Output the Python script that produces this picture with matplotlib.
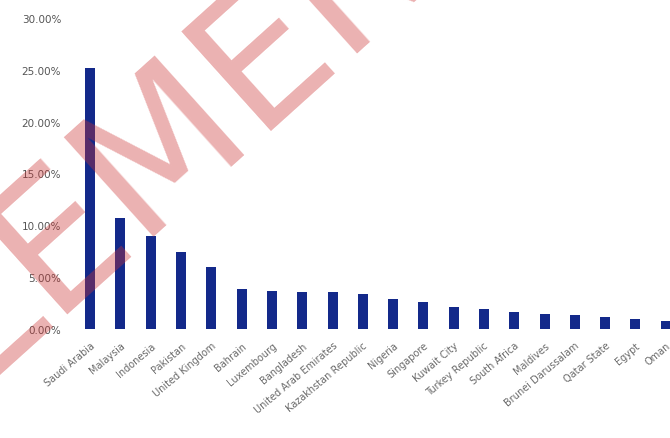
import matplotlib
matplotlib.use("Agg")
import matplotlib.pyplot as plt
from matplotlib.ticker import PercentFormatter

# ---------------- data ----------------
categories = [
    "Saudi Arabia", "Malaysia", "Indonesia", "Pakistan", "United Kingdom",
    "Bahrain", "Luxembourg", "Bangladesh", "United Arab Emirates",
    "Kazakhstan Republic", "Nigeria", "Singapore", "Kuwait City",
    "Turkey Republic", "South Africa", "Maldives", "Brunei Darussalam",
    "Qatar State", "Egypt", "Oman",
]
shares = [
    25.2, 10.7, 9.0, 7.4, 6.0, 3.85, 3.7, 3.6, 3.6, 3.4,
    2.9, 2.6, 2.1, 1.9, 1.6, 1.45, 1.35, 1.15, 0.96, 0.77,
]
y_ticks = [0, 5, 10, 15, 20, 25, 30]

# ---------------- figure ----------------
fig = plt.figure(figsize=(6.70, 4.39), dpi=100)
W, H = 670, 439
left_px, right_px, top_px, bottom_px = 75, 670, 19, 330
ax = fig.add_axes([left_px / W, (H - bottom_px) / H,
                   (right_px - left_px) / W, (bottom_px - top_px) / H])

ax.bar(range(len(shares)), shares, width=0.33, color="#13298a", zorder=2)

ax.set_xlim(-0.5, 19.14)
ax.set_ylim(0, 30)
ax.set_yticks(y_ticks)
ax.yaxis.set_major_formatter(PercentFormatter(decimals=2))
ax.set_xticks(range(len(categories)))
ax.set_xticklabels(categories, rotation=40, ha="right", rotation_mode="anchor")

ax.tick_params(axis="y", length=0, pad=10, labelsize=7.5, labelcolor="#555555")
ax.tick_params(axis="x", length=0, pad=8, labelsize=7, labelcolor="#6a6a6a")
for s in ax.spines.values():
    s.set_visible(False)

# watermark across the chart
fig.text(172 / W, 1 - 135 / H, "ELEMENT", fontsize=132, family="DejaVu Sans",
         color="#cc3333", alpha=0.38,
         rotation=42, ha="center", va="center", zorder=10)

fig.savefig("out.png", dpi=100)
